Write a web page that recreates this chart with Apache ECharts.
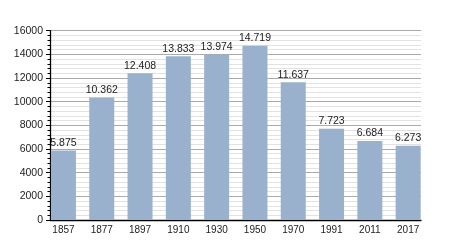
<!DOCTYPE html>
<html><head><meta charset="utf-8">
<script src="https://cdn.jsdelivr.net/npm/echarts@6/dist/echarts.min.js"></script>
<style>html,body{margin:0;padding:0;background:#fff}#c{width:450px;height:250px}</style>
</head><body><div id="c"></div>
<script>
var years = ['1857','1877','1897','1910','1930','1950','1970','1991','2011','2017'];
var population = [5875, 10362, 12408, 13833, 13974, 14719, 11637, 7723, 6684, 6273];
var yTicks = [0, 2000, 4000, 6000, 8000, 10000, 12000, 14000, 16000];

function fmt(v){ var s = String(v); return s.length > 3 ? s.slice(0, s.length-3) + '.' + s.slice(-3) : s; }

var chart = echarts.init(document.getElementById('c'), null, {renderer:'canvas'});
var font = 'Liberation Sans, Arial, sans-serif';
chart.setOption({
  animation: false,
  grid: [
    {left: 50, top: 30.7, width: 371, height: 189.3},
    {left: 44.3, top: 30.7, width: 383, height: 189.3}
  ],
  xAxis: [
    {gridIndex: 0, type: 'category', data: years, show: true,
     axisLine: {show: true, lineStyle: {color: '#000', width: 1.3}}, axisTick: {show: false}, axisLabel: {show: false}},
    {gridIndex: 1, type: 'category', data: years,
     axisLine: {show: false}, axisTick: {show: false},
     axisLabel: {color: '#222', fontSize: 10, fontFamily: font, margin: 5}}
  ],
  yAxis: [
    {gridIndex: 0, type: 'value', min: yTicks[0], max: yTicks[yTicks.length-1], interval: 2000,
     axisLine: {show: true, lineStyle: {color: '#000', width: 1.3}},
     axisTick: {show: true, length: 4, lineStyle: {color: '#000'}},
     minorTick: {show: true, splitNumber: 5, length: 2.5, lineStyle: {color: '#000'}},
     splitLine: {show: true, lineStyle: {color: '#aaa', width: 1}},
     minorSplitLine: {show: true, lineStyle: {color: '#e2e2e2', width: 1}},
     axisLabel: {color: '#222', fontSize: 10.5, fontFamily: font, margin: 7,
       formatter: function(v){ return String(v); }}},
    {gridIndex: 1, type: 'value', min: yTicks[0], max: yTicks[yTicks.length-1], show: false, splitLine: {show: false}}
  ],
  series: [{
    type: 'bar', xAxisIndex: 1, yAxisIndex: 1, data: population, barWidth: 25,
    itemStyle: {color: '#99b1cd'},
    label: {show: true, position: 'top', distance: 2, color: '#222', fontSize: 10.5, fontFamily: font,
      formatter: function(p){ return fmt(p.value); }}
  }]
});
</script></body></html>
